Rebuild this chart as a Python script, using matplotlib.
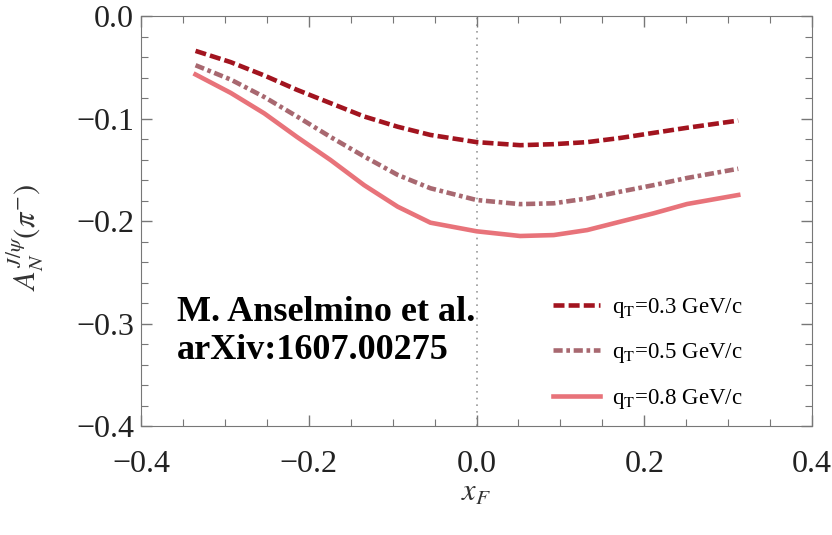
import numpy as np
import matplotlib.pyplot as plt
from matplotlib.ticker import MultipleLocator

plt.rcParams['font.family'] = ['Liberation Serif', 'DejaVu Serif']
plt.rcParams['mathtext.fontset'] = 'stix'

# valores
xF = [-0.335, -0.293, -0.253, -0.214, -0.174, -0.134, -0.094, -0.055, 0.0,
      0.052, 0.092, 0.132, 0.171, 0.211, 0.251, 0.312]
an_q03 = [-0.034, -0.045, -0.058, -0.072, -0.085, -0.098, -0.108, -0.116, -0.123,
          -0.126, -0.125, -0.123, -0.119, -0.114, -0.109, -0.102]
an_q05 = [-0.048, -0.062, -0.079, -0.098, -0.118, -0.137, -0.155, -0.168, -0.1795,
          -0.1835, -0.1827, -0.178, -0.1714, -0.165, -0.158, -0.149]
an_q08 = [-0.057, -0.075, -0.095, -0.118, -0.1405, -0.165, -0.186, -0.2016, -0.210,
          -0.2146, -0.2137, -0.2088, -0.2007, -0.1925, -0.1834, -0.1746]
etiquetas = [r'q$_\mathrm{T}$=0.3 GeV/c', r'q$_\mathrm{T}$=0.5 GeV/c', r'q$_\mathrm{T}$=0.8 GeV/c']

fig = plt.figure(figsize=(8.32, 5.35), dpi=100)
ax = fig.add_axes([0.1695, 0.2037, 0.8065, 0.7663])

ax.axvline(0, color='#999999', ls=(0, (1, 3)), lw=1.2, zorder=1)
ax.plot(xF, an_q03, color='#a2141f', lw=3.3, ls=(0, (2.4, 0.9)), label=etiquetas[0])
ax.plot(xF, an_q05, color='#a86870', lw=3.3, ls=(0, (2.0, 0.8, 0.8, 0.8)), label=etiquetas[1])
ax.plot(xF, an_q08, color='#e8737a', lw=3.3, ls='-', label=etiquetas[2])

ax.set_xlim(-0.4, 0.4)
ax.set_ylim(-0.4, 0.0)
ax.xaxis.set_major_locator(MultipleLocator(0.2))
ax.xaxis.set_minor_locator(MultipleLocator(0.05))
ax.yaxis.set_major_locator(MultipleLocator(0.1))
ax.yaxis.set_minor_locator(MultipleLocator(0.02))
ax.xaxis.set_major_formatter(lambda v, p: f'{v:.1f}'.replace('-', '\u2212'))
ax.yaxis.set_major_formatter(lambda v, p: f'{v:.1f}'.replace('-', '\u2212'))
ax.tick_params(which='both', direction='in', top=True, right=True, color='#777777',
               labelsize=23, labelcolor='#222222')
ax.tick_params(which='major', length=8, width=1)
ax.tick_params(which='minor', length=5, width=0.8)
ax.tick_params(axis='x', which='major', pad=17)
ax.tick_params(axis='y', which='major', pad=5)
for s in ax.spines.values():
    s.set_color('#777777')

ax.set_xlabel(r'$x_F$', fontsize=22, color='#333333', labelpad=0)
ax.set_ylabel(r'$A_N^{J/\psi}(\pi^{-})$', fontsize=22, color='#333333')
ax.yaxis.set_label_coords(-0.14, 0.46)

ax.text(0.054, 0.23, 'M. Anselmino et al.\narXiv:1607.00275', transform=ax.transAxes,
        fontsize=26, fontweight='bold', va='center', ha='left', linespacing=1.2)

ax.legend(loc='lower right', bbox_to_anchor=(0.927, -0.014), frameon=False, fontsize=16.5,
          handlelength=2.05, labelspacing=0.95, handletextpad=0.5)

fig.savefig('out.png', dpi=100)
